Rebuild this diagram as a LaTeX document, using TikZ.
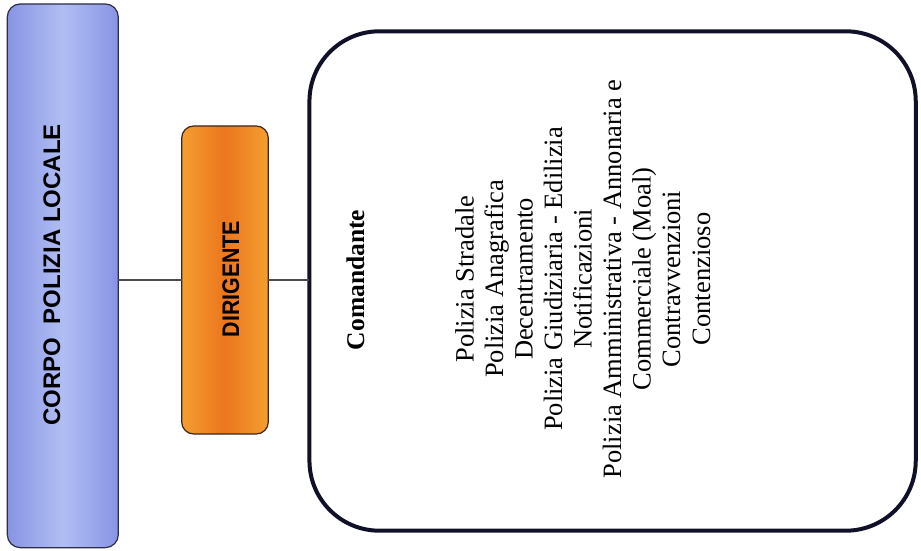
\documentclass[tikz,border=0pt]{standalone}
\usepackage{fontspec}
\setsansfont{Liberation Sans}
\setmainfont{Liberation Serif}
\definecolor{blueedge}{RGB}{136,148,228}
\definecolor{bluemid}{RGB}{176,190,244}
\definecolor{blueline}{RGB}{45,45,70}
\definecolor{orgedge}{RGB}{244,158,48}
\definecolor{orgmid}{RGB}{236,118,30}
\definecolor{orgline}{RGB}{60,40,25}
\definecolor{boxline}{RGB}{16,16,40}
\begin{document}
\begin{tikzpicture}[x=1bp,y=-1bp,
  conn/.style={draw=black!70, line width=1.1bp},
  sanslabel/.style={font=\fontsize{24bp}{28bp}\sffamily\bfseries, text=black, anchor=base, rotate=90, inner sep=0pt},
  pal/.style={font=\fontsize{26.5bp}{30bp}\rmfamily, text=black, anchor=base, rotate=90, inner sep=0pt},
  palb/.style={font=\fontsize{25.5bp}{30bp}\rmfamily\bfseries, text=black, anchor=base, rotate=90, inner sep=0pt},
  bluebox/.style={draw=blueline, line width=1.2bp, rounded corners=13bp, left color=blueedge, right color=blueedge, middle color=bluemid, minimum width=111bp, minimum height=543.7bp, inner sep=0pt, outer sep=0pt},
  orgbox/.style={draw=orgline, line width=1.2bp, rounded corners=12bp, left color=orgedge, right color=orgedge, middle color=orgmid, minimum width=86.6bp, minimum height=308bp, inner sep=0pt, outer sep=0pt},
  bigbox/.style={draw=boxline, line width=4bp, rounded corners=70bp, fill=white, minimum width=606.3bp, minimum height=499.4bp, inner sep=0pt, outer sep=0pt}]
\useasboundingbox (0,0) rectangle (921,551);
\fill[white] (0,0) rectangle (921,551);

\node[bluebox] (corpo) at (62.8,275.8) {};
\node[orgbox] (dir) at (225,280) {};
\node[bigbox] (comando) at (612.6,281) {};

\node[sanslabel] (corpoT) at (60,275) {CORPO\ \ POLIZIA LOCALE};
\node[sanslabel] (dirT) at (239,279) {\scalebox{0.89}[1]{DIRIGENTE}};

\draw[conn] (dir.west -| corpo.east) -- (dir.west);
\draw[conn] (dir.east) -- (dir.east -| comando.west);

\node[palb] (cmd) at (364,280) {Comandante};
\node[pal] (l1) at (473.5,279) {Polizia Stradale};
\node[pal] (l2) at (503,279) {Polizia Anagrafica};
\node[pal] (l3) at (532.5,279) {Decentramento};
\node[pal] (l4) at (562,279) {Polizia Giudiziaria - Edilizia};
\node[pal] (l5) at (591.5,279) {Notificazioni};
\node[pal] (l6) at (621,279) {Polizia Amministrativa - Annonaria e};
\node[pal] (l7) at (650.5,279) {Commerciale (Moal)};
\node[pal] (l8) at (680,279) {Contravvenzioni};
\node[pal] (l9) at (710,279) {Contenzioso};
\end{tikzpicture}
\end{document}
